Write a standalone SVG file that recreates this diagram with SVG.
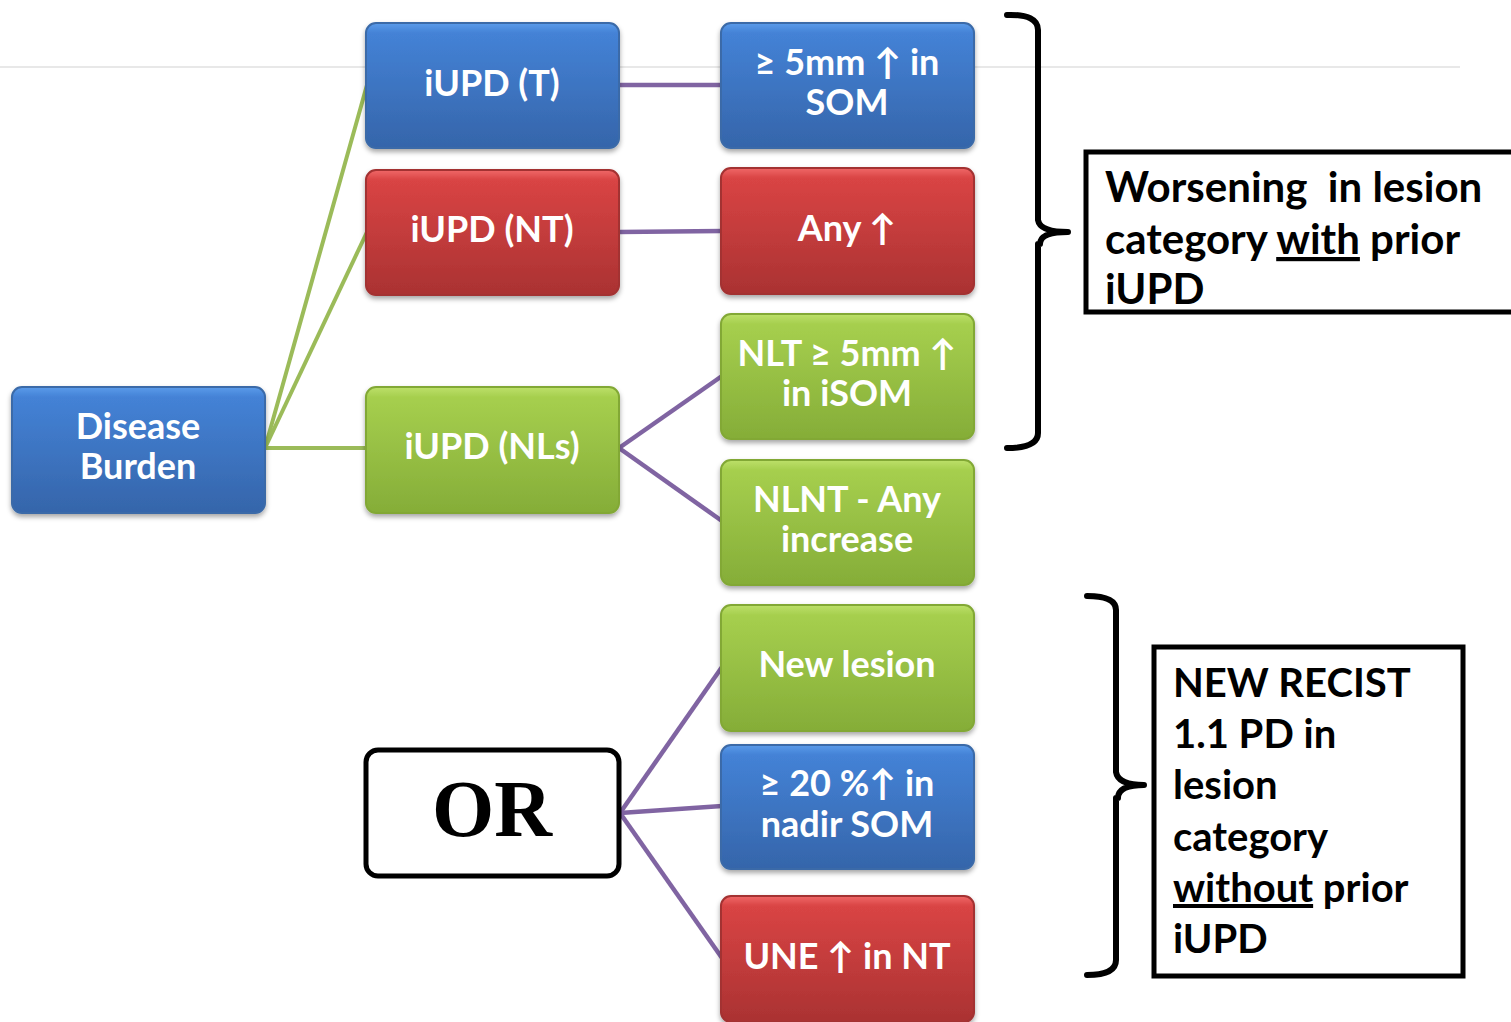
<svg xmlns="http://www.w3.org/2000/svg" width="1511" height="1022" viewBox="0 0 1511 1022">
<defs>
<linearGradient id="gBlue" x1="0" y1="0" x2="0" y2="1">
<stop offset="0" stop-color="#5b9bea"/><stop offset="0.08" stop-color="#4482d6"/><stop offset="1" stop-color="#3565aa"/>
</linearGradient>
<linearGradient id="gRed" x1="0" y1="0" x2="0" y2="1">
<stop offset="0" stop-color="#f06868"/><stop offset="0.08" stop-color="#d94444"/><stop offset="1" stop-color="#aa3232"/>
</linearGradient>
<linearGradient id="gGreen" x1="0" y1="0" x2="0" y2="1">
<stop offset="0" stop-color="#bde06a"/><stop offset="0.08" stop-color="#a6cf4e"/><stop offset="1" stop-color="#85ad38"/>
</linearGradient>
<filter id="sh" x="-10%" y="-10%" width="120%" height="130%">
<feDropShadow dx="0" dy="3" stdDeviation="2.5" flood-color="#000" flood-opacity="0.35"/>
</filter>
</defs>
<style>
.box{stroke-width:2;filter:url(#sh)}
.blue{fill:url(#gBlue);stroke:#3a6aa8}
.red{fill:url(#gRed);stroke:#a33030}
.green{fill:url(#gGreen);stroke:#82a836}
.t{font-family:Lato,"Open Sans","DejaVu Sans",sans-serif;font-weight:bold;fill:#fff;font-size:36px;text-anchor:middle}
.green-line{stroke:#9bbb59;stroke-width:4;fill:none}
.purple-line{stroke:#8064a2;stroke-width:4.5;fill:none}
.bk{font-family:Lato,"Open Sans","DejaVu Sans",sans-serif;font-weight:bold;fill:#000}
.brace{fill:none;stroke:#000;stroke-width:6;stroke-linecap:round;stroke-linejoin:round}
</style>
<rect width="1511" height="1022" fill="#fff"/>
<line x1="0" y1="67" x2="1460" y2="67" stroke="#e8e8e8" stroke-width="2"/>
<g id="connectors">
<line class="green-line" x1="265" y1="448" x2="367" y2="85"/>
<line class="green-line" x1="265" y1="448" x2="367" y2="232"/>
<line class="green-line" x1="265" y1="448" x2="367" y2="448"/>
<line class="purple-line" x1="619" y1="85" x2="722" y2="85"/>
<line class="purple-line" x1="619" y1="232" x2="722" y2="231"/>
<line class="purple-line" x1="619" y1="448" x2="722" y2="376"/>
<line class="purple-line" x1="619" y1="448" x2="722" y2="521"/>
<line class="purple-line" x1="620" y1="813" x2="722" y2="667"/>
<line class="purple-line" x1="620" y1="813" x2="722" y2="806"/>
<line class="purple-line" x1="620" y1="813" x2="722" y2="958"/>
</g>
<g id="disease-burden"><rect class="box blue" x="12" y="387" width="253" height="126" rx="10"/>
<text class="t" x="138" y="439">Disease</text><text class="t" x="138" y="479">Burden</text></g>
<g id="iupd-t"><rect class="box blue" x="366" y="23" width="253" height="125" rx="10"/>
<text class="t" x="492" y="96">iUPD (T)</text></g>
<g id="iupd-nt"><rect class="box red" x="366" y="170" width="253" height="125" rx="10"/>
<text class="t" x="492" y="242">iUPD (NT)</text></g>
<g id="iupd-nls"><rect class="box green" x="366" y="387" width="253" height="126" rx="10"/>
<text class="t" x="492" y="459">iUPD (NLs)</text></g>
<g id="som5"><rect class="box blue" x="721" y="23" width="253" height="125" rx="10"/>
<text class="t" x="847" y="75">≥ 5mm ↑ in</text><text class="t" x="847" y="115">SOM</text></g>
<g id="any"><rect class="box red" x="721" y="168" width="253" height="126" rx="10"/>
<text class="t" x="847" y="241">Any ↑</text></g>
<g id="nlt"><rect class="box green" x="721" y="314" width="253" height="125" rx="10"/>
<text class="t" x="847" y="366">NLT ≥ 5mm ↑</text><text class="t" x="847" y="406">in iSOM</text></g>
<g id="nlnt"><rect class="box green" x="721" y="460" width="253" height="125" rx="10"/>
<text class="t" x="847" y="512">NLNT - Any</text><text class="t" x="847" y="552">increase</text></g>
<g id="new-lesion"><rect class="box green" x="721" y="605" width="253" height="126" rx="10"/>
<text class="t" x="847" y="677">New lesion</text></g>
<g id="nadir"><rect class="box blue" x="721" y="745" width="253" height="124" rx="10"/>
<text class="t" x="847" y="796">≥ 20 %↑ in</text><text class="t" x="847" y="837">nadir SOM</text></g>
<g id="une"><rect class="box red" x="721" y="896" width="253" height="126" rx="10"/>
<text class="t" x="847" y="969">UNE ↑ in NT</text></g>
<g id="or"><rect x="366" y="750" width="253" height="126" rx="12" fill="#fff" stroke="#000" stroke-width="5"/>
<text x="492" y="836" text-anchor="middle" font-family="'Liberation Serif',serif" font-weight="bold" font-size="80">OR</text></g>
<g id="brace-top"><path class="brace" d="M1007,15 Q1038,14 1038,30 L1038,220 Q1040,232 1068,232 M1040,244 Q1040,232 1068,232 M1038,244 L1038,433 Q1038,448 1007,448"/></g>
<g id="brace-bottom"><path class="brace" d="M1087,596 Q1116,596 1116,610 L1116,772 Q1118,785 1144,785 M1118,798 Q1118,785 1144,785 M1116,798 L1116,960 Q1116,975 1087,975"/></g>
<g id="worsening"><rect x="1086" y="152" width="435" height="160" fill="#fff" stroke="#000" stroke-width="5"/>
<text class="bk" x="1105" y="202" font-size="42">Worsening&#160; in lesion</text>
<text class="bk" x="1105" y="254" font-size="42">category <tspan text-decoration="underline">with</tspan> prior</text>
<text class="bk" x="1105" y="304" font-size="42">iUPD</text></g>
<g id="new-recist"><rect x="1154" y="647" width="309" height="329" fill="#fff" stroke="#000" stroke-width="5"/>
<text class="bk" x="1173" y="697" font-size="40">NEW RECIST</text>
<text class="bk" x="1173" y="748" font-size="40">1.1 PD in</text>
<text class="bk" x="1173" y="799" font-size="40">lesion</text>
<text class="bk" x="1173" y="851" font-size="40">category</text>
<text class="bk" x="1173" y="902" font-size="40"><tspan text-decoration="underline">without</tspan> prior</text>
<text class="bk" x="1173" y="953" font-size="40">iUPD</text></g>
</svg>
